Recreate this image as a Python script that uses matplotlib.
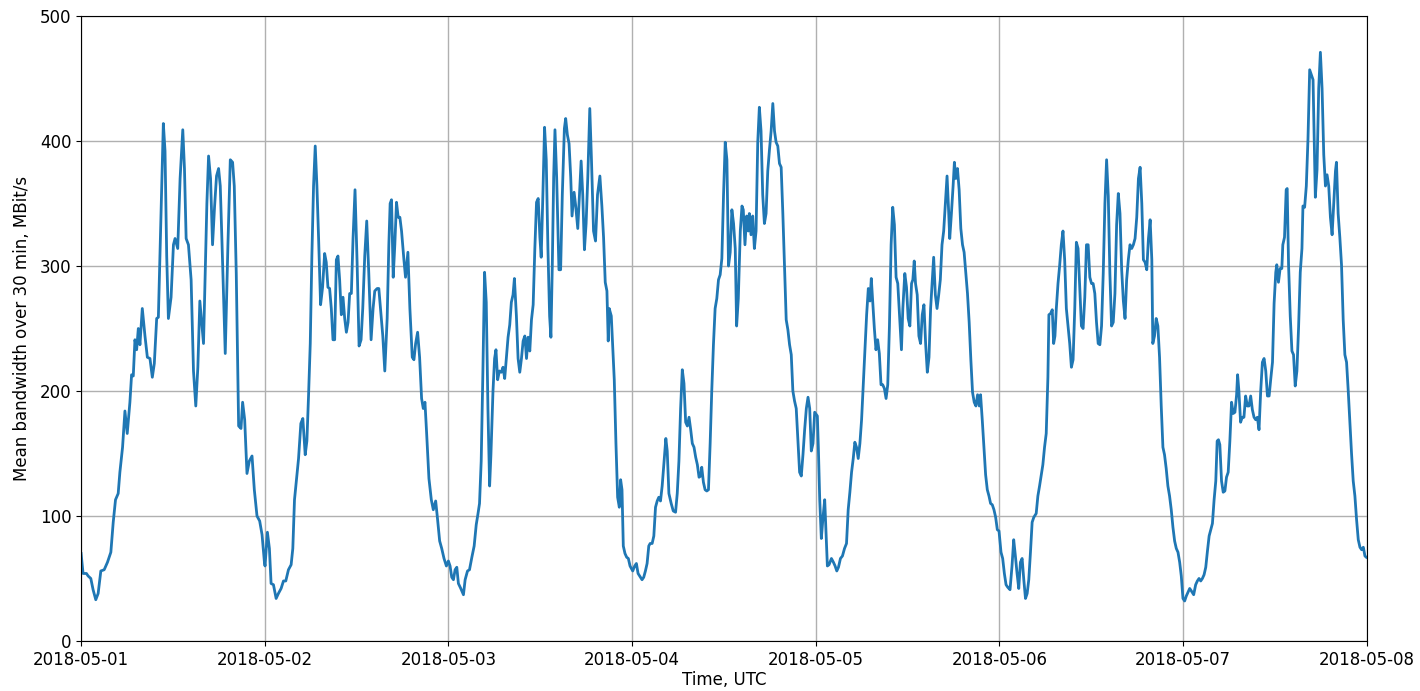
"""
Mean bandwidth over 30 min for one week of May 2018 (UTC).
Values read off the reference chart, one list per day, time in hours.
"""

import numpy as np
import pandas as pd
import matplotlib
matplotlib.use("Agg")
import matplotlib.pyplot as plt
import matplotlib.dates as mdates

START = "2018-05-01"
END = "2018-05-08"

day1_hours = [0.0, 0.26, 0.70, 0.92, 1.27, 1.57, 1.92, 2.23, 2.58, 3.02,
              3.45, 3.89, 4.20, 4.50, 4.85, 5.07, 5.42, 5.73, 6.03, 6.38,
              6.60, 6.82, 7.04, 7.26, 7.48, 7.69, 8.0, 8.35, 8.66, 9.0,
              9.31, 9.57, 9.88, 10.1, 10.32, 10.54, 10.75, 10.97, 11.19, 11.41,
              11.76, 12.07, 12.28, 12.63, 12.94, 13.29, 13.51, 13.73, 14.03, 14.38,
              14.69, 14.99, 15.26, 15.52, 16.0, 16.22, 16.44, 16.66, 16.92, 17.18,
              17.44, 17.7, 17.97, 18.19, 18.4, 18.84, 19.19, 19.5, 19.8, 20.02,
              20.28, 20.59, 20.9, 21.11, 21.38, 21.68, 21.99, 22.34, 22.64, 22.99,
              23.34, 23.65, 23.96]
day1_mbit = [70, 54, 54, 52, 50, 41, 33, 38, 56, 57,
             63, 71, 95, 113, 118, 135, 155, 184, 166, 191,
             213, 212, 241, 233, 250, 237, 266, 244, 227, 226,
             211, 222, 258, 259, 311, 364, 414, 392, 308, 258,
             275, 317, 322, 314, 370, 409, 378, 322, 317, 289,
             216, 188, 219, 272, 238, 294, 350, 388, 370, 317,
             347, 372, 378, 364, 322, 230, 317, 385, 383, 364,
             294, 172, 170, 191, 177, 134, 144, 148, 121, 100,
             96, 85, 63]

day2_hours = [0.04, 0.35, 0.61, 0.83, 1.14, 1.49, 1.79, 2.14, 2.45, 2.75,
              3.10, 3.45, 3.67, 3.89, 4.11, 4.42, 4.72, 4.98, 5.29, 5.51,
              5.73, 5.95, 6.16, 6.38, 6.60, 6.82, 7.04, 7.30, 7.56, 7.83,
              8.04, 8.26, 8.48, 8.70, 8.92, 9.14, 9.36, 9.57, 9.79, 10.01,
              10.23, 10.45, 10.67, 10.89, 11.10, 11.32, 11.54, 11.80, 12.07, 12.33,
              12.59, 12.81, 13.07, 13.33, 13.6, 13.9, 14.16, 14.38, 14.69, 14.91,
              15.13, 15.43, 15.69, 16.0, 16.22, 16.39, 16.57, 16.79, 17.0, 17.22,
              17.44, 17.66, 17.88, 18.19, 18.4, 18.71, 18.97, 19.28, 19.5, 19.72,
              19.98, 20.24, 20.5, 20.72, 20.94, 21.16, 21.46, 21.77, 22.03, 22.34,
              22.56, 22.86, 23.13, 23.43, 23.74]
day2_mbit = [60, 87, 74, 46, 45, 34, 38, 42, 48, 48,
             57, 61, 74, 113, 127, 146, 174, 178, 149, 160,
             197, 238, 308, 364, 396, 364, 322, 269, 283, 310,
             303, 283, 282, 266, 241, 241, 305, 308, 289, 261,
             275, 258, 247, 255, 278, 278, 322, 361, 303, 236,
             241, 266, 308, 336, 294, 241, 266, 280, 282, 282,
             266, 244, 216, 258, 317, 350, 353, 291, 317, 351,
             339, 339, 328, 305, 291, 311, 266, 227, 225, 238,
             247, 227, 194, 186, 191, 166, 130, 113, 105, 112,
             99, 80, 74, 66, 60]

day3_hours = [0.0, 0.22, 0.44, 0.66, 0.88, 1.10, 1.31, 1.62, 1.97, 2.19,
              2.50, 2.76, 3.07, 3.37, 3.64, 3.85, 4.07, 4.29, 4.51, 4.73,
              4.95, 5.17, 5.39, 5.56, 5.83, 6.04, 6.22, 6.44, 6.66, 6.92,
              7.14, 7.36, 7.58, 7.80, 8.02, 8.23, 8.45, 8.63, 8.89, 9.11,
              9.33, 9.55, 9.77, 9.99, 10.21, 10.42, 10.64, 10.86, 11.08, 11.3,
              11.52, 11.74, 11.96, 12.13, 12.35, 12.57, 12.79, 13.01, 13.23, 13.4,
              13.58, 13.76, 13.93, 14.15, 14.45, 14.67, 14.89, 15.16, 15.33, 15.55,
              15.77, 15.99, 16.16, 16.43, 16.64, 16.91, 17.13, 17.35, 17.56, 17.78,
              18.0, 18.22, 18.48, 18.7, 18.97, 19.23, 19.49, 19.8, 20.06, 20.28,
              20.5, 20.72, 20.89, 21.02, 21.29, 21.46, 21.68, 21.9, 22.12, 22.34,
              22.51, 22.69, 22.86, 23.08, 23.3, 23.52, 23.74]
day3_mbit = [64, 60, 51, 49, 57, 59, 46, 42, 37, 49,
             56, 57, 67, 76, 93, 101, 110, 144, 215, 295,
             271, 186, 124, 149, 200, 226, 233, 209, 216, 215,
             219, 210, 226, 243, 253, 271, 277, 290, 260, 226,
             215, 226, 240, 244, 226, 243, 232, 257, 269, 314,
             351, 354, 323, 307, 357, 411, 385, 314, 260, 243,
             300, 371, 409, 371, 297, 297, 357, 410, 418, 405,
             398, 371, 340, 359, 348, 330, 357, 384, 357, 313,
             334, 371, 426, 385, 328, 320, 357, 372, 348, 323,
             287, 280, 240, 266, 260, 237, 209, 158, 115, 107,
             129, 121, 76, 70, 67, 66, 60]

day4_hours = [0.09, 0.35, 0.57, 0.79, 1.10, 1.31, 1.53, 1.75, 1.97, 2.19,
              2.37, 2.63, 2.85, 3.07, 3.29, 3.50, 3.72, 3.94, 4.16, 4.42,
              4.60, 4.82, 5.12, 5.39, 5.69, 5.91, 6.13, 6.35, 6.57, 6.79,
              7.01, 7.23, 7.45, 7.67, 7.88, 8.10, 8.32, 8.54, 8.76, 8.98,
              9.11, 9.33, 9.55, 9.77, 9.99, 10.21, 10.42, 10.64, 10.86, 11.08,
              11.3, 11.52, 11.74, 11.96, 12.18, 12.4, 12.61, 12.83, 13.05, 13.27,
              13.49, 13.67, 13.89, 14.15, 14.37, 14.54, 14.76, 14.98, 15.2, 15.33,
              15.55, 15.77, 15.99, 16.21, 16.43, 16.64, 16.86, 17.08, 17.3, 17.52,
              17.74, 17.96, 18.18, 18.4, 18.62, 18.83, 19.05, 19.27, 19.49, 19.71,
              19.93, 20.15, 20.37, 20.59, 20.81, 21.02, 21.24, 21.46, 21.68, 21.9,
              22.12, 22.34, 22.56, 22.78, 23.0, 23.22, 23.43, 23.65, 23.87]
day4_mbit = [56, 60, 62, 54, 51, 49, 51, 56, 62, 76,
             78, 78, 84, 107, 112, 115, 112, 124, 141, 162,
             152, 118, 110, 104, 103, 118, 144, 186, 217, 206,
             175, 172, 179, 169, 158, 155, 147, 141, 131, 132,
             139, 127, 121, 120, 121, 158, 200, 237, 266, 274,
             289, 293, 306, 357, 399, 385, 300, 311, 345, 334,
             314, 252, 274, 328, 348, 345, 317, 340, 328, 342,
             325, 340, 314, 328, 399, 427, 408, 357, 334, 342,
             376, 393, 408, 430, 408, 399, 396, 382, 379, 342,
             300, 257, 249, 237, 229, 200, 192, 186, 161, 135,
             132, 149, 169, 186, 195, 186, 152, 158, 183]

day5_hours = [0.22, 0.35, 0.53, 0.74, 0.96, 1.18, 1.31, 1.53, 1.75, 2.06,
              2.32, 2.54, 2.76, 2.98, 3.24, 3.5, 3.77, 4.03, 4.25, 4.47,
              4.69, 4.91, 5.12, 5.34, 5.56, 5.78, 6.0, 6.22, 6.44, 6.66,
              6.88, 7.1, 7.27, 7.45, 7.67, 7.88, 8.10, 8.32, 8.54, 8.76,
              8.98, 9.2, 9.42, 9.64, 9.86, 10.07, 10.29, 10.51, 10.73, 10.95,
              11.21, 11.39, 11.65, 11.87, 12.09, 12.31, 12.53, 12.7, 12.88, 13.05,
              13.27, 13.49, 13.71, 13.93, 14.15, 14.37, 14.59, 14.81, 15.02, 15.24,
              15.42, 15.64, 15.86, 16.08, 16.29, 16.51, 16.73, 16.95, 17.17, 17.39,
              17.52, 17.74, 17.96, 18.13, 18.31, 18.53, 18.75, 18.97, 19.19, 19.4,
              19.62, 19.84, 20.06, 20.28, 20.5, 20.72, 20.94, 21.16, 21.38, 21.55,
              21.77, 21.99, 22.21, 22.43, 22.65, 22.86, 23.08, 23.3, 23.52, 23.74,
              23.96]
day5_mbit = [180, 155, 113, 82, 99, 113, 94, 60, 61, 66,
             63, 60, 56, 59, 66, 68, 74, 78, 105, 119,
             135, 146, 159, 155, 146, 158, 177, 205, 233, 261,
             282, 272, 290, 272, 250, 233, 241, 230, 205, 205,
             202, 194, 205, 252, 317, 347, 333, 291, 286, 261,
             233, 266, 294, 283, 258, 252, 286, 289, 304, 286,
             277, 244, 238, 261, 269, 238, 215, 227, 266, 289,
             307, 277, 266, 277, 289, 317, 328, 350, 372, 342,
             322, 342, 364, 383, 370, 378, 361, 330, 317, 311,
             294, 278, 255, 225, 199, 191, 188, 197, 188, 197,
             177, 155, 133, 121, 116, 110, 109, 105, 99, 89,
             88]

day6_hours = [0.22, 0.44, 0.66, 0.88, 1.10, 1.4, 1.66, 1.88, 2.10, 2.32,
              2.54, 2.76, 2.98, 3.2, 3.42, 3.64, 3.85, 4.07, 4.29, 4.51,
              4.82, 5.04, 5.26, 5.48, 5.69, 5.91, 6.13, 6.35, 6.48, 6.7,
              6.92, 7.1, 7.27, 7.45, 7.67, 7.88, 8.10, 8.32, 8.54, 8.76,
              8.98, 9.2, 9.42, 9.64, 9.86, 10.07, 10.29, 10.51, 10.73, 10.95,
              11.17, 11.39, 11.61, 11.83, 12.05, 12.26, 12.48, 12.7, 12.92, 13.14,
              13.36, 13.58, 13.8, 14.02, 14.24, 14.45, 14.67, 14.89, 15.11, 15.33,
              15.55, 15.77, 15.99, 16.21, 16.43, 16.64, 16.86, 17.08, 17.3, 17.52,
              17.74, 17.96, 18.18, 18.4, 18.62, 18.83, 19.05, 19.27, 19.49, 19.71,
              19.93, 20.06, 20.28, 20.5, 20.72, 20.94, 21.16, 21.38, 21.59, 21.81,
              22.03, 22.25, 22.47, 22.69, 22.91, 23.13, 23.35, 23.57, 23.78]
day6_mbit = [71, 66, 54, 45, 43, 41, 60, 81, 68, 54,
             42, 63, 66, 49, 34, 38, 49, 71, 95, 99,
             102, 116, 124, 133, 141, 155, 166, 211, 261, 262,
             265, 238, 244, 266, 286, 300, 317, 328, 305, 266,
             252, 238, 219, 225, 266, 319, 314, 283, 252, 250,
             275, 317, 317, 291, 286, 286, 278, 255, 238, 237,
             252, 294, 350, 385, 356, 294, 252, 255, 278, 333,
             358, 342, 297, 272, 258, 289, 305, 317, 314, 317,
             322, 339, 370, 379, 350, 305, 303, 297, 322, 337,
             305, 238, 244, 258, 252, 227, 188, 155, 149, 138,
             124, 116, 105, 91, 80, 74, 71, 63, 52]

day7_hours = [0.0, 0.22, 0.44, 0.66, 0.88, 1.10, 1.4, 1.66, 1.88, 2.10, 2.32,
              2.54, 2.76, 2.98, 3.2, 3.42, 3.64, 3.85, 4.07, 4.29, 4.47,
              4.64, 4.82, 5.04, 5.26, 5.48, 5.69, 5.91, 6.13, 6.35, 6.57,
              6.79, 7.01, 7.14, 7.31, 7.53, 7.75, 7.97, 8.19, 8.41, 8.63,
              8.85, 9.07, 9.29, 9.51, 9.72, 9.94, 10.16, 10.38, 10.6, 10.82,
              11.04, 11.26, 11.48, 11.7, 11.91, 12.13, 12.26, 12.48, 12.7, 12.92,
              13.05, 13.27, 13.49, 13.62, 13.8, 14.02, 14.24, 14.45, 14.67, 14.89,
              15.11, 15.33, 15.55, 15.68, 15.9, 16.12, 16.34, 16.56, 16.78, 17.0,
              17.17, 17.3, 17.52, 17.74, 17.96, 18.18, 18.4, 18.62, 18.83, 19.05,
              19.27, 19.49, 19.71, 19.93, 20.06, 20.28, 20.5, 20.72, 20.94, 21.16,
              21.38, 21.59, 21.81, 22.03, 22.25, 22.47, 22.69, 22.91, 23.13, 23.35,
              23.57, 23.78, 23.96]
day7_mbit = [34, 32, 36, 39, 42, 40, 37, 45, 48, 50, 48,
             50, 53, 59, 72, 84, 89, 94, 113, 128, 160,
             161, 157, 128, 119, 120, 131, 135, 160, 191, 182,
             183, 197, 213, 200, 175, 179, 179, 196, 188, 188,
             196, 185, 179, 177, 179, 169, 200, 223, 226, 216,
             196, 196, 210, 223, 270, 295, 301, 287, 298, 298,
             317, 323, 361, 362, 301, 260, 232, 229, 204, 216,
             251, 295, 314, 348, 347, 364, 402, 457, 453, 449,
             395, 355, 377, 442, 471, 442, 389, 364, 373, 364,
             339, 325, 351, 376, 383, 342, 323, 301, 257, 229,
             223, 201, 175, 150, 128, 116, 97, 81, 75, 73,
             75, 68, 67]

days = [
    (day1_hours, day1_mbit),
    (day2_hours, day2_mbit),
    (day3_hours, day3_mbit),
    (day4_hours, day4_mbit),
    (day5_hours, day5_mbit),
    (day6_hours, day6_mbit),
    (day7_hours, day7_mbit),
]


def build_series(days, start):
    """Stack the per-day lists into one time-indexed series."""
    t0 = pd.Timestamp(start)
    times, vals = [], []
    for d, (hours, mbit) in enumerate(days):
        assert len(hours) == len(mbit), f"day {d + 1}: length mismatch"
        times.extend(t0 + pd.to_timedelta(24 * d + np.asarray(hours), unit="h"))
        vals.extend(mbit)
    return pd.Series(vals, index=pd.DatetimeIndex(times))


series = build_series(days, START)

fig = plt.figure(figsize=(14.2, 6.91), dpi=100)
ax = fig.add_axes([0.0571, 0.0724, 0.9053, 0.9044])

ax.plot(series.index, series.values, color="#1f77b4", linewidth=2.0)

ax.set_xlim(pd.Timestamp(START), pd.Timestamp(END))
ax.set_ylim(0, 500)
ax.xaxis.set_major_locator(mdates.DayLocator())
ax.xaxis.set_major_formatter(mdates.DateFormatter("%Y-%m-%d"))
ax.set_yticks([0, 100, 200, 300, 400, 500])
ax.grid(True, color="#b0b0b0", linewidth=1.0)
ax.tick_params(labelsize=12)
ax.set_xlabel("Time, UTC", fontsize=12, labelpad=2)
ax.set_ylabel("Mean bandwidth over 30 min, MBit/s", fontsize=12, labelpad=6)

fig.savefig("out.png", dpi=100)
plt.close(fig)
